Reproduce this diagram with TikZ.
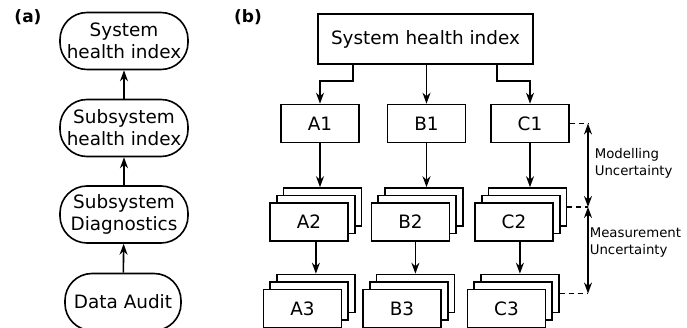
\documentclass[tikz,border=0pt]{standalone}
\usepackage{fontspec}
\setmainfont{DejaVu Sans}
\usetikzlibrary{arrows.meta,positioning}

% three stacked copies: back (#1c), middle (#1b), front (#1)
\newcommand{\stackbox}[4]{%
  \node[r, xshift=13.4pt, yshift=15pt] (#1c) at (#2,#3) {};
  \node[r, xshift=6.7pt, yshift=7.5pt] (#1b) at (#2,#3) {};
  \node[r] (#1) at (#2,#3) {#4};
}

\begin{document}
\begin{tikzpicture}[
  x=1pt, y=-1pt, line width=1.6pt,
  font=\fontsize{18.4}{22}\selectfont,
  pill/.style={rectangle, draw, rounded corners=27pt, minimum width=128pt,
               minimum height=57pt, inner sep=0pt, align=center},
  r/.style={rectangle, draw, fill=white, minimum width=78pt,
            minimum height=38pt, inner sep=0pt},
  lab/.style={font=\fontsize{17}{20}\selectfont\bfseries},
  note/.style={font=\fontsize{13.3}{17}\selectfont, align=left,
               anchor=west, inner sep=1pt},
  arr/.style={-{Stealth[length=11pt,width=8pt]}},
  dbl/.style={{Stealth[length=11pt,width=8pt]}-{Stealth[length=11pt,width=8pt]}},
  dsh/.style={dash pattern=on 5pt off 4pt}
]
  \useasboundingbox (0,0) rectangle (687,328);

  % (a) bottom-up chain
  \node[lab] (la) at (28,17) {(a)};
  \node[pill] (a1) at (124,41) {System\\health index};
  \node[pill] (a2) at (124,128) {Subsystem\\health index};
  \node[pill] (a3) at (124,214.5) {Subsystem\\Diagnostics};
  \node[pill, minimum width=116pt] (a4) at (123,302) {Data Audit};
  \draw[arr] (a2) -- (a1);
  \draw[arr] (a3) -- (a2);
  \draw[arr] (a4) -- (a3);

  % (b) hierarchy
  \node[lab] (lb) at (248,17) {(b)};
  \node[r, minimum width=215pt, minimum height=50pt] (top) at (425.5,39) {System health index};

  \node[r] (A1) at (320,123.5) {A1};
  \node[r] (B1) at (426.5,123.5) {B1};
  \node[r] (C1) at (530,123.5) {C1};

  \stackbox{A2}{309}{222}{A2}
  \stackbox{B2}{410.5}{222}{B2}
  \stackbox{C2}{514}{222}{C2}

  \stackbox{A3}{302.5}{308.5}{A3}
  \stackbox{B3}{402}{308.5}{B3}
  \stackbox{C3}{506.5}{308.5}{C3}

  \draw[arr] ([xshift=-72.5pt]top.south) -- ++(0,16) -| (A1.north);
  \draw[arr] (B1.north |- top.south) -- (B1.north);
  \draw[arr] ([xshift=71.5pt]top.south) -- ++(0,16) -| (C1.north);

  \draw[arr] (A1) -- (A1 |- A2c.north);
  \draw[arr] (B1) -- (B1 |- B2c.north);
  \draw[arr] (C1) -- (C1 |- C2c.north);

  \draw[arr] (A3c.north |- A2.south) -- (A3c.north);
  \draw[arr] (B3c.north |- B2.south) -- (B3c.north);
  \draw[arr] (C3c.north |- C2.south) -- (C3c.north);

  % uncertainty bars
  \coordinate (rail) at (588,0);
  \coordinate (m1) at (C1.east -| rail);
  \coordinate (m2) at (C2c.east -| rail);
  \coordinate (m3) at (C3c.east -| rail);
  \draw[dsh] (C1.east) -- (m1);
  \draw[dsh] (C2c.east) -- (m2);
  \draw[dsh] (C3c.east) -- (m3);
  \draw[dbl] (m1) -- (m2);
  \draw[dbl] (m2) -- (m3);
  \node[note] (mod) at (593,163) {Modelling\\Uncertainty};
  \node[note] (meas) at (588,243) {Measurement\\Uncertainty};
\end{tikzpicture}
\end{document}
